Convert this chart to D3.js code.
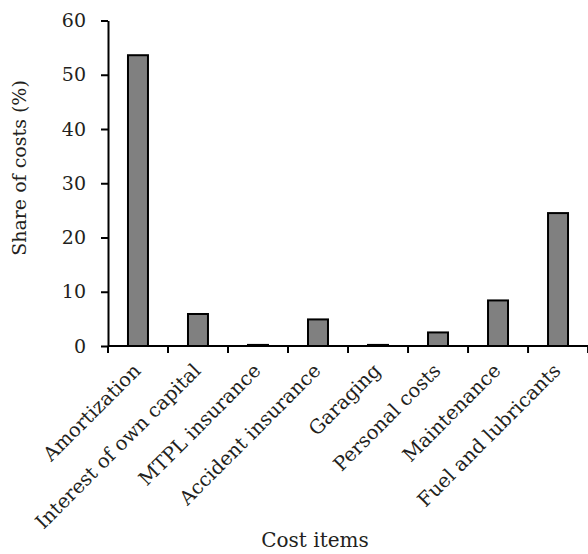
<!DOCTYPE html>
<html lang="en">
  <head>
    <meta charset="UTF-8" />
    <title>Share of costs</title>
    <script src="https://cdn.jsdelivr.net/npm/d3@7"></script>
    <style>
      body { margin: 0; background: #fff; }
      text { font-family: 'DejaVu Serif', serif; fill: #231f20; }
    </style>
  </head>
  <body>
    <div id="chart"></div>
    <script>
      const categories = ['Amortization', 'Interest of own capital', 'MTPL insurance', 'Accident insurance',
        'Garaging', 'Personal costs', 'Maintenance', 'Fuel and lubricants']
      const shares = [53.6, 5.9, 0.2, 4.9, 0.2, 2.5, 8.4, 24.5]
      const yTicks = [0, 10, 20, 30, 40, 50, 60]

      const width = 588, height = 554
      const margin = { top: 20.5, right: 0, bottom: 208, left: 108 }

      const svg = d3.select('#chart').append('svg')
        .attr('width', width).attr('height', height)

      const x = d3.scaleBand()
        .domain(categories)
        .range([margin.left, width - margin.right])
        .paddingInner(0.667).paddingOuter(0.333)

      const y = d3.scaleLinear()
        .domain([0, 60])
        .range([height - margin.bottom, margin.top])

      // bars
      svg.append('g').selectAll('rect')
        .data(categories)
        .join('rect')
        .attr('x', d => x(d))
        .attr('width', x.bandwidth())
        .attr('y', (d, i) => y(shares[i]))
        .attr('height', (d, i) => y(0) - y(shares[i]))
        .attr('fill', '#808080')
        .attr('stroke', '#000')
        .attr('stroke-width', 2)

      // y axis
      const yAxis = svg.append('g')
        .attr('transform', `translate(${margin.left},0)`)
        .call(d3.axisLeft(y).tickValues(yTicks).tickSize(7).tickPadding(15).tickSizeOuter(0))
      yAxis.select('.domain').attr('stroke', '#000').attr('stroke-width', 2)
      yAxis.selectAll('.tick line').attr('stroke-width', 2)
      yAxis.selectAll('text').attr('font-size', 19).attr('font-family', null)

      // x axis: ticks at category boundaries
      const step = x.step()
      const bounds = d3.range(categories.length + 1).map(i => margin.left + i * step)
      const xg = svg.append('g')
      xg.append('line')
        .attr('x1', margin.left).attr('x2', width)
        .attr('y1', y(0)).attr('y2', y(0))
        .attr('stroke', '#000').attr('stroke-width', 2)
      xg.selectAll('.tk')
        .data(bounds)
        .join('line')
        .attr('x1', d => d).attr('x2', d => d)
        .attr('y1', y(0)).attr('y2', y(0) + 7)
        .attr('stroke', '#000').attr('stroke-width', 2)

      xg.selectAll('.lbl')
        .data(categories)
        .join('text')
        .attr('transform', d => `translate(${x(d) + x.bandwidth() / 2 - 1},${y(0) + 21}) rotate(-45)`)
        .attr('text-anchor', 'end')
        .attr('dy', '0.35em')
        .attr('font-size', 19.5)
        .text(d => d)

      // titles
      svg.append('text')
        .attr('transform', `translate(26,168) rotate(-90)`)
        .attr('text-anchor', 'middle')
        .attr('font-size', 19)
        .text('Share of costs (%)')

      svg.append('text')
        .attr('x', 315).attr('y', 547)
        .attr('text-anchor', 'middle')
        .attr('font-size', 20)
        .text('Cost items')
    </script>
  </body>
</html>
